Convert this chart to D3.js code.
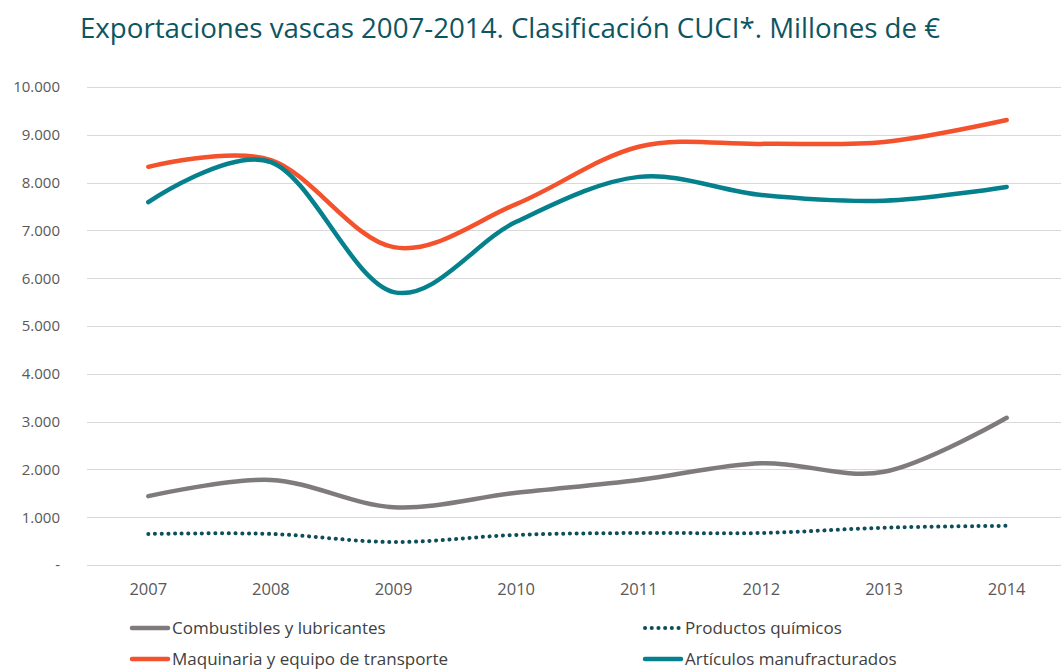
<!DOCTYPE html>
<html>
<head>
<meta charset="utf-8">
<script src="https://cdn.jsdelivr.net/npm/d3@7"></script>
<style>
  body { margin: 0; background: #fff; }
  svg { display: block; font-family: "Open Sans", "Noto Sans", sans-serif; }
</style>
</head>
<body>
<div id="chart"></div>
<script>
// datos
var years = ['2007', '2008', '2009', '2010', '2011', '2012', '2013', '2014'];
var combustibles = [1440, 1780, 1210, 1510, 1780, 2130, 1950, 3080];
var quimicos = [650, 650, 480, 630, 670, 670, 780, 820];
var maquinaria = [8330, 8470, 6650, 7550, 8750, 8810, 8850, 9310];
var manufacturados = [7590, 8430, 5710, 7180, 8120, 7740, 7620, 7910];
var yTicks = [0, 1000, 2000, 3000, 4000, 5000, 6000, 7000, 8000, 9000, 10000];

var series = [
    {name: 'Combustibles y lubricantes', values: combustibles, color: '#7f7b7b', dotted: false},
    {name: 'Productos químicos', values: quimicos, color: '#0d4e5a', dotted: true},
    {name: 'Maquinaria y equipo de transporte', values: maquinaria, color: '#f4522d', dotted: false},
    {name: 'Artículos manufracturados', values: manufacturados, color: '#04818c', dotted: false}
];

var w = 1061, h = 669;
var margin = {top: 87, right: -7, bottom: 104, left: 87};

var svg = d3.select('#chart').append('svg')
    .attr('width', w)
    .attr('height', h);

svg.append('text')
    .attr('x', 80)
    .attr('y', 38)
    .attr('fill', '#0e5562')
    .style('font-size', '28px')
    .attr('textLength', 860)
    .attr('lengthAdjust', 'spacingAndGlyphs')
    .text('Exportaciones vascas 2007-2014. Clasificación CUCI*. Millones de €');

var x = d3.scaleBand()
    .domain(years)
    .range([margin.left, w - margin.right]);

var y = d3.scaleLinear()
    .domain([0, 10000])
    .range([h - margin.bottom, margin.top]);

var fmt = function(d) {
    if (d === 0) return '-';
    return d3.format(',')(d).replace(/,/g, '.');
};

// gridlines
svg.append('g')
    .selectAll('line')
    .data(yTicks)
    .enter().append('line')
        .attr('x1', margin.left)
        .attr('x2', w)
        .attr('y1', function(d) { return Math.round(y(d)) + 0.5; })
        .attr('y2', function(d) { return Math.round(y(d)) + 0.5; })
        .attr('stroke', '#d9d9d9')
        .attr('stroke-width', 1);

// eje y
var yAxis = svg.append('g')
    .attr('transform', 'translate(' + 60 + ',0)')
    .call(d3.axisLeft(y).tickValues(yTicks).tickFormat(fmt).tickSize(0));
yAxis.select('.domain').remove();
yAxis.selectAll('text')
    .attr('x', 0)
    .attr('fill', '#595959')
    .style('font-size', '15px')
    .style('font-family', '"Open Sans", sans-serif');

// eje x
var xAxis = svg.append('g')
    .attr('transform', 'translate(0,' + (h - margin.bottom) + ')')
    .call(d3.axisBottom(x).tickSize(0));
xAxis.select('.domain').remove();
xAxis.selectAll('text')
    .attr('y', 18)
    .attr('fill', '#595959')
    .style('font-size', '16.5px')
    .style('font-family', '"Open Sans", sans-serif');

var line = d3.line()
    .x(function(d, i) { return x(years[i]) + x.bandwidth() / 2; })
    .y(function(d) { return y(d); })
    .curve(d3.curveCardinal.tension(0));

series.forEach(function(s) {
    var p = svg.append('path')
        .datum(s.values)
        .attr('d', line)
        .attr('fill', 'none')
        .attr('stroke', s.color)
        .attr('stroke-linecap', 'round')
        .attr('stroke-linejoin', 'round');
    if (s.dotted) {
        p.attr('stroke-width', 4).attr('stroke-dasharray', '0.1 6.6');
    } else {
        p.attr('stroke-width', 4.5);
    }
});

// leyenda
var legendPos = [[130, 628], [643, 628], [130, 659], [643, 659]];
series.forEach(function(s, i) {
    var g = svg.append('g')
        .attr('transform', 'translate(' + legendPos[i][0] + ',' + legendPos[i][1] + ')');
    var l = g.append('line')
        .attr('x1', 2).attr('x2', 38)
        .attr('y1', 0).attr('y2', 0)
        .attr('stroke', s.color)
        .attr('stroke-linecap', 'round');
    if (s.dotted) {
        l.attr('stroke-width', 4).attr('stroke-dasharray', '0.1 6.6').attr('x1', 2).attr('x2', 40);
    } else {
        l.attr('stroke-width', 4.5);
    }
    g.append('text')
        .attr('x', 42)
        .attr('y', 6)
        .attr('fill', '#404040')
        .style('font-size', '17px')
        .text(s.name);
});
</script>
</body>
</html>
